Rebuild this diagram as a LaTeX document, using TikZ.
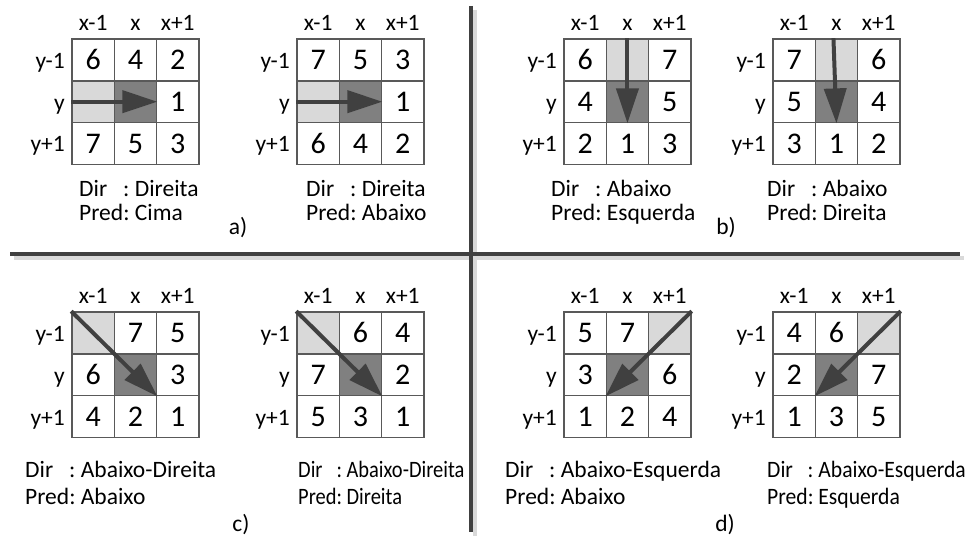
\documentclass[tikz,border=0pt]{standalone}
\usepackage{fontspec}
\setmainfont{Carlito}
\usetikzlibrary{arrows.meta}
\definecolor{gridline}{HTML}{595959}
\definecolor{lightcell}{HTML}{D9D9D9}
\definecolor{darkcell}{HTML}{808080}
\definecolor{arrowcol}{HTML}{404040}
\newcommand{\cellw}{42.3}
\newcommand{\cellh}{41.8}
\tikzset{
  cell/.style={draw=gridline, line width=1.6pt, minimum width=\cellw pt, minimum height=\cellh pt, inner sep=0pt, font=\fontsize{30}{32}\selectfont},
  collabel/.style={anchor=base, inner sep=0pt, font=\fontsize{23.5}{25}\selectfont},
  rowlabel/.style={anchor=base east, inner sep=0pt, font=\fontsize{23.5}{25}\selectfont},
  caption/.style={anchor=base west, inner sep=0pt, font=\fontsize{23.5}{23}\selectfont},
  captionlow/.style={caption, font=\fontsize{23.5}{27}\selectfont},
  tag/.style={inner sep=0pt, font=\fontsize{23.5}{25}\selectfont},
  flow/.style={draw=arrowcol, line width=4pt, -{Triangle[length=35pt,width=22pt]}},
  rule/.style={draw=arrowcol, line width=4pt},
  ruleshadow/.style={draw=lightcell, line width=4pt},
}
% 3x3 邻域: 名称, 左上角 x, y, 九个格子, 来源格序号
\newcommand{\nbgrid}[5]{%
  \foreach \v [count=\idx from 0] in {#4} {
    \pgfmathtruncatemacro\ri{div(\idx,3)}
    \pgfmathtruncatemacro\ci{mod(\idx,3)}
    \ifnum\idx=4 \def\f{darkcell}\else\ifnum\idx=#5 \def\f{lightcell}\else\def\f{white}\fi\fi
    \node[cell,fill=\f] (#1-\ri-\ci) at ({#2+(\ci+0.5)*\cellw},{#3+(\ri+0.5)*\cellh}) {\v};
  }
  \foreach \t [count=\ci from 0] in {x-1,x,x+1}
    \node[collabel] (#1-cx\ci) at ({#2+(\ci+0.5)*\cellw},{#3-8}) {\t};
  \foreach \t [count=\ri from 0] in {y-1,y,y+1}
    \node[rowlabel] (#1-ry\ri) at ({#2-7},{#3+(\ri+0.5)*\cellh+8.5}) {\t};
}
\newcommand{\dirpred}[2]{\begin{tabular}[t]{@{}l@{:\ }l@{}}Dir&#1\\Pred&#2\end{tabular}}
\begin{document}
\begin{tikzpicture}[x=1pt,y=-1pt]
  \useasboundingbox (0,0) rectangle (969,537);
  % 分隔线
  \coordinate (vtop) at (471,6);
  \coordinate (vbot) at (471,532);
  \coordinate (hleft) at (10,254.5);
  \coordinate (hright) at (960,254.5);
  \draw[ruleshadow] ([shift={(4,4)}]vtop) -- ([shift={(4,4)}]vbot);
  \draw[ruleshadow] ([shift={(4,4)}]hleft) -- ([shift={(4,4)}]hright);
  \draw[rule] (vtop) -- (vbot);
  \draw[rule] (hleft) -- (hright);
  % 邻域网格
  \nbgrid{a1}{72}{39}{6,4,2,{},{},1,7,5,3}{3}
  \nbgrid{a2}{297}{39}{7,5,3,{},{},1,6,4,2}{3}
  \nbgrid{b1}{564}{39}{6,{},7,4,{},5,2,1,3}{1}
  \nbgrid{b2}{773}{39}{7,{},6,5,{},4,3,1,2}{1}
  \nbgrid{c1}{72}{312}{{},7,5,6,{},3,4,2,1}{0}
  \nbgrid{c2}{297}{312}{{},6,4,7,{},2,5,3,1}{0}
  \nbgrid{d1}{564}{312}{5,7,{},3,{},6,1,2,4}{2}
  \nbgrid{d2}{773}{312}{4,6,{},2,{},7,1,3,5}{2}
  % 方向箭头
  \draw[flow] (a1-1-0.west) -- (a1-1-1.east);
  \draw[flow] (a2-1-0.west) -- (a2-1-1.east);
  \draw[flow] (b1-0-1.north) -- (b1-1-1.south);
  \draw[flow] ([xshift=-3pt]b2-0-1.north) -- (b2-1-1.south);
  \draw[flow] (c1-0-0.north west) -- (c1-1-1.south east);
  \draw[flow] (c2-0-0.north west) -- (c2-1-1.south east);
  \draw[flow] (d1-0-2.north east) -- (d1-1-1.south west);
  \draw[flow] (d2-0-2.north east) -- (d2-1-1.south west);
  % 说明文字
  \node[caption] (a1-txt) at (79,197) {\dirpred{Direita}{Cima}};
  \node[caption] (a2-txt) at (306,197) {\dirpred{Direita}{Abaixo}};
  \node[caption] (b1-txt) at (551,197) {\dirpred{Abaixo}{Esquerda}};
  \node[caption] (b2-txt) at (767,197) {\dirpred{Abaixo}{Direita}};
  \node[captionlow] (c1-txt) at (25,477) {\dirpred{Abaixo-Direita}{Abaixo}};
  \node[captionlow] (c2-txt) at (298,477) {\scalebox{0.87}[1]{\dirpred{Abaixo-Direita}{Direita}}};
  \node[captionlow] (d1-txt) at (505,477) {\dirpred{Abaixo-Esquerda}{Abaixo}};
  \node[captionlow] (d2-txt) at (767,477) {\scalebox{0.92}[1]{\dirpred{Abaixo-Esquerda}{Esquerda}}};
  % 子图编号
  \node[tag] (a-tag) at (238,228) {a)};
  \node[tag] (b-tag) at (726,228) {b)};
  \node[tag] (c-tag) at (241,525) {c)};
  \node[tag] (d-tag) at (725,525) {d)};
\end{tikzpicture}
\end{document}
